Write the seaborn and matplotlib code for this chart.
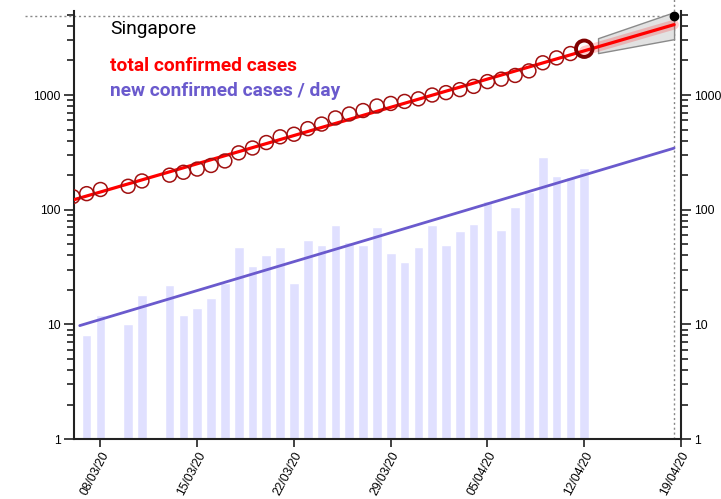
import numpy as np
import pandas as pd
import matplotlib
matplotlib.use('Agg')
import matplotlib.pyplot as plt
import matplotlib.dates as mdates
import seaborn as sns

# --- data ---
total_dates = ['2020-03-06', '2020-03-07', '2020-03-08', '2020-03-10', '2020-03-11'] + \
    [f'2020-03-{d:02d}' for d in range(13, 32)] + [f'2020-04-{d:02d}' for d in range(1, 13)]
total_cases = [130, 138, 150, 160, 178,
               200, 212, 226, 243, 266, 313, 345, 385, 432, 455, 509, 558, 631, 683, 732,
               802, 844, 879, 926,
               1000, 1049, 1114, 1189, 1309, 1375, 1481, 1623, 1910, 2108, 2299, 2532]
new_dates = total_dates[1:]
new_cases = [8, 12, 10, 18, 22, 12, 14, 17, 23, 47, 32, 40, 47, 23, 54, 49, 73, 52, 49, 70,
             42, 35, 47, 74, 49, 65, 75, 120, 66, 106, 142, 287, 198, 191, 233]

# trend of new cases / day (values read at the ends of the drawn line)
new_trend_dates = ['2020-03-06 12:00', '2020-04-18 12:00']
new_trend_values = [9.75, 344]

proj_date = '2020-04-18 12:00'
proj_value = 4900
band_dates = ['2020-04-13 00:00', '2020-04-18 12:00']
band_low = [2320, 3070]
band_high = [3130, 5280]

tick_dates = ['2020-03-08', '2020-03-15', '2020-03-22', '2020-03-29', '2020-04-05', '2020-04-12', '2020-04-19']
x_range = ['2020-03-06 02:00', '2020-04-19 00:00']
y_range = [1, 5400]

RED = '#ff0000'
DARKRED = '#a01010'
BLUE = '#6a5acd'
BAR = '#e0e0ff'

sns.set_style('ticks')
plt.rcParams['font.family'] = ['Liberation Sans', 'DejaVu Sans']

df_tot = pd.DataFrame({'date': pd.to_datetime(total_dates), 'cases': total_cases})
df_new = pd.DataFrame({'date': pd.to_datetime(new_dates), 'cases': new_cases})
df_trend = pd.DataFrame({'date': pd.to_datetime(new_trend_dates), 'cases': new_trend_values})
t_end = pd.Timestamp(proj_date)
x0, x1 = [pd.Timestamp(s) for s in x_range]


# log-linear fit of the totals
def fit_line(df, start, end):
    x = mdates.date2num(df['date'])
    k, b = np.polyfit(x, np.log10(df['cases']), 1)
    xs = np.array([mdates.date2num(start), mdates.date2num(end)])
    return pd.DataFrame({'date': pd.to_datetime(mdates.num2date(xs)).tz_localize(None),
                         'cases': 10 ** (k * xs + b)})


red_fit = fit_line(df_tot, df_tot['date'].iloc[0], t_end)
red_ext = fit_line(df_tot, df_tot['date'].iloc[-1], t_end)

fig = plt.figure(figsize=(7.21, 4.99), dpi=100)
ax = fig.add_axes([0.1026, 0.1202, 0.8419, 0.8577])
ax.set_yscale('log')

ax.bar(df_new['date'], df_new['cases'], width=0.7, color=BAR, zorder=1)
sns.lineplot(data=df_trend, x='date', y='cases', color=BLUE, linewidth=2, ax=ax, zorder=2)

# projection band
bd = pd.to_datetime(band_dates)
ax.fill_between(bd, band_low, band_high, facecolor='#e2e2e2', edgecolor='#8a8a8a',
                linewidth=1, zorder=2)
sns.lineplot(data=red_ext, x='date', y='cases', color=RED, alpha=0.2, linewidth=7, ax=ax, zorder=3)
sns.lineplot(data=red_fit, x='date', y='cases', color=RED, linewidth=2.3, ax=ax, zorder=3)

sns.scatterplot(data=df_tot.iloc[:-1], x='date', y='cases', s=100, facecolor='none',
                edgecolor=DARKRED, linewidth=1.1, ax=ax, zorder=4)
sns.scatterplot(data=df_tot.iloc[-1:], x='date', y='cases', s=140, facecolor='none',
                edgecolor='#800000', linewidth=2.8, ax=ax, zorder=5)

# projected point with crosshair
frac_end = (mdates.date2num(t_end) - mdates.date2num(x0)) / (mdates.date2num(x1) - mdates.date2num(x0))
ax.axhline(proj_value, xmin=-0.08, xmax=frac_end, color='#888888', linestyle=(0, (1.5, 2)),
           linewidth=1, clip_on=False, zorder=1)
ax.axvline(t_end, ymin=0, ymax=1.03, color='#888888', linestyle=(0, (1.5, 2)), linewidth=1,
           clip_on=False, zorder=1)
ax.plot([t_end], [proj_value], 'o', color='black', markersize=6, zorder=6)

ax.set_xlim(x0, x1)
ax.set_ylim(y_range)
ax.set_xlabel('')
ax.set_ylabel('')

ax.set_xticks(pd.to_datetime(tick_dates))
ax.xaxis.set_major_formatter(mdates.DateFormatter('%d/%m/%y'))
for lab in ax.get_xticklabels():
    lab.set_rotation(62)
    lab.set_ha('right')
    lab.set_va('top')
    lab.set_rotation_mode('anchor')
ax.xaxis.set_minor_locator(plt.NullLocator())

ax.yaxis.set_major_formatter(matplotlib.ticker.FuncFormatter(lambda v, p: f'{v:g}'))
ax.yaxis.set_minor_formatter(matplotlib.ticker.NullFormatter())
ax.tick_params(axis='y', which='both', left=True, right=True, labelleft=True, labelright=True,
               direction='out', colors='#333333', labelcolor='black', labelsize=8.8, pad=2.5)
ax.tick_params(axis='y', which='major', length=7, width=1.3)
ax.tick_params(axis='y', which='minor', length=5, width=1.3)
ax.tick_params(axis='x', which='major', length=6, width=1.3, colors='#333333', labelcolor='black',
               labelsize=8.8, pad=2)

for side in ['left', 'right', 'bottom']:
    ax.spines[side].set_visible(True)
    ax.spines[side].set_color('#222222')
    ax.spines[side].set_linewidth(1.5)
ax.spines['top'].set_visible(False)

ax.text(0.059, 0.958, 'Singapore', transform=ax.transAxes, fontsize=13.8, family=['Roboto'],
        color='black', va='center')
ax.text(0.059, 0.871, 'total confirmed cases', transform=ax.transAxes, fontsize=13.8,
        family=['Roboto'], fontweight='bold', color=RED, va='center')
ax.text(0.059, 0.812, 'new confirmed cases / day', transform=ax.transAxes, fontsize=13.8,
        family=['Roboto'], fontweight='bold', color=BLUE, va='center')

fig.savefig('out.png', dpi=100)
